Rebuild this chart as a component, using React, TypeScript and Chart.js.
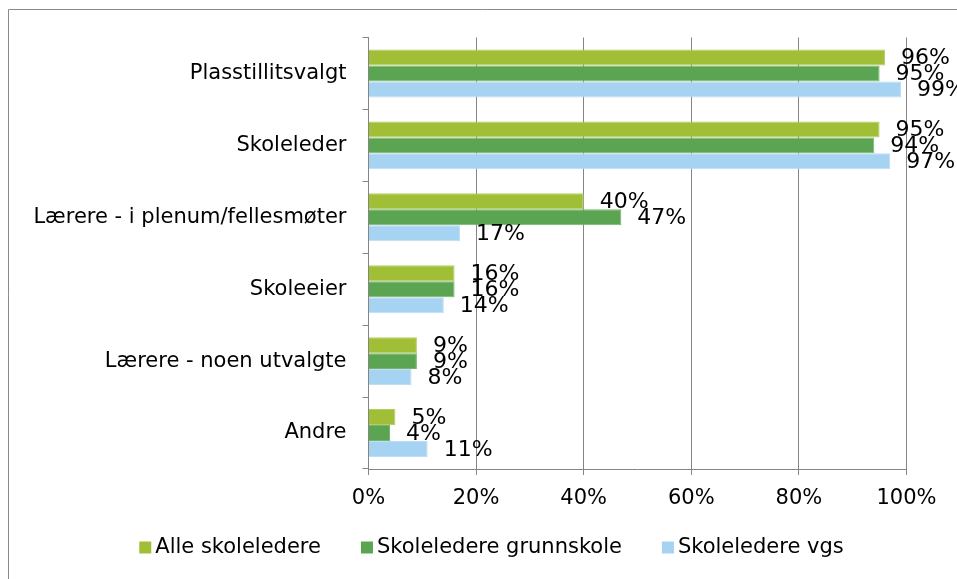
import React, { useEffect, useRef } from "react";
import { Chart, registerables } from "chart.js";

Chart.register(...registerables);

const categories = [
  "Plasstillitsvalgt",
  "Skoleleder",
  "Lærere - i plenum/fellesmøter",
  "Skoleeier",
  "Lærere - noen utvalgte",
  "Andre",
];
const seriesNames = ["Alle skoleledere", "Skoleledere grunnskole", "Skoleledere vgs"];
const alleSkoleledere = [96, 95, 40, 16, 9, 5];
const grunnskole = [95, 94, 47, 16, 9, 4];
const vgs = [99, 97, 17, 14, 8, 11];
const xTicks = [0, 20, 40, 60, 80, 100];

const colors = ["#A1BE37", "#5BA552", "#A6D3F2"];
const borderColors = ["#B5CE63", "#77B46F", "#BCDDF5"];
const FONT = "DejaVu Sans";
const FS = 21;
const LABEL_FS = 22;

const frameAndLabels = {
  id: "frameAndLabels",
  beforeDraw(chart: any) {
    const ctx = chart.ctx;
    ctx.save();
    ctx.fillStyle = "#ffffff";
    ctx.fillRect(0, 0, chart.width, chart.height);
    ctx.strokeStyle = "#8a8a8a";
    ctx.lineWidth = 1;
    ctx.beginPath();
    ctx.moveTo(8.5, chart.height);
    ctx.lineTo(8.5, 9.5);
    ctx.lineTo(chart.width, 9.5);
    ctx.stroke();
    ctx.restore();
  },
  afterDatasetsDraw(chart: any) {
    const ctx = chart.ctx;
    ctx.save();
    ctx.font = `${LABEL_FS}px "${FONT}"`;
    ctx.fillStyle = "#000";
    ctx.textAlign = "left";
    ctx.textBaseline = "middle";
    chart.data.datasets.forEach((ds: any, i: number) => {
      const meta = chart.getDatasetMeta(i);
      meta.data.forEach((bar: any, j: number) => {
        ctx.fillText(`${ds.data[j]}%`, bar.x + 16, bar.y + 1);
      });
    });
    ctx.restore();
  },
  afterDraw(chart: any) {
    const ctx = chart.ctx;
    ctx.save();
    ctx.font = `${FS}px "${FONT}"`;
    ctx.textBaseline = "middle";
    ctx.textAlign = "left";
    const box = 12;
    const gapText = 4;
    const gapItem = 40;
    const items = chart.data.datasets.map((ds: any) => ({
      label: ds.label,
      color: ds.backgroundColor,
      w: ctx.measureText(ds.label).width,
    }));
    const total =
      items.reduce((s: number, it: any) => s + box + gapText + it.w, 0) +
      gapItem * (items.length - 1);
    const cx = 491.5;
    const cy = 547.5;
    let x = cx - total / 2;
    items.forEach((it: any) => {
      ctx.fillStyle = it.color;
      ctx.fillRect(x, cy - box / 2, box, box);
      ctx.fillStyle = "#000";
      ctx.fillText(it.label, x + box + gapText, cy);
      x += box + gapText + it.w + gapItem;
    });
    ctx.restore();
  },
};

export default function App() {
  const ref = useRef<HTMLCanvasElement>(null);
  useEffect(() => {
    document.body.style.margin = "0";
    document.body.style.overflow = "hidden";
    Chart.defaults.font.family = FONT;
    Chart.defaults.font.size = FS;
    Chart.defaults.color = "#000";
    const data = [alleSkoleledere, grunnskole, vgs];
    const chart = new Chart(ref.current!, {
      type: "bar",
      data: {
        labels: categories,
        datasets: seriesNames.map((name, i) => ({
          label: name,
          data: data[i],
          backgroundColor: colors[i],
          borderColor: borderColors[i],
          borderWidth: 1,
          categoryPercentage: 0.667,
          barPercentage: 1,
        })),
      },
      options: {
        indexAxis: "y",
        responsive: false,
        animation: false,
        devicePixelRatio: 1,
        layout: { padding: { left: 8, top: 37.5, right: 50.5, bottom: 0 } },
        plugins: {
          legend: { display: false },
          tooltip: { enabled: false },
          title: { display: false },
        },
        scales: {
          x: {
            min: 0,
            max: 100,
            afterBuildTicks(scale: any) {
              scale.ticks = xTicks.map((v) => ({ value: v }));
            },
            afterFit(scale: any) {
              scale.height = 110;
            },
            ticks: {
              padding: 11,
              font: { size: FS, family: FONT },
              color: "#000",
              callback: (v: any) => `${v}%`,
            },
            grid: {
              color: "#858585",
              lineWidth: 1,
              tickLength: 6,
              drawTicks: true,
            },
            border: { display: true, color: "#858585", width: 1 },
          },
          y: {
            afterFit(scale: any) {
              scale.width = 360.5;
            },
            ticks: {
              padding: 16,
              font: { size: FS, family: FONT },
              color: "#000",
            },
            grid: {
              drawOnChartArea: false,
              drawTicks: true,
              tickLength: 6,
              color: "#858585",
              offset: true,
            },
            border: { display: true, color: "#858585", width: 1 },
          },
        },
      },
      plugins: [frameAndLabels],
    } as any);
    return () => chart.destroy();
  }, []);
  return (
    <canvas
      ref={ref}
      width={957}
      height={579}
      style={{ display: "block", width: 957, height: 579 }}
    />
  );
}
